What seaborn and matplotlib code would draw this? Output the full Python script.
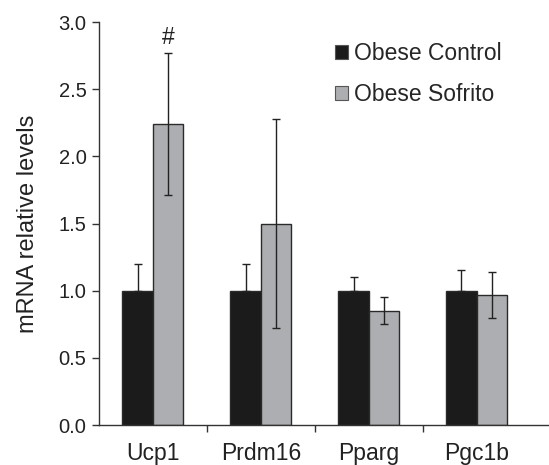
import matplotlib
matplotlib.use("Agg")
import matplotlib.pyplot as plt
import seaborn as sns
import pandas as pd
import numpy as np
from matplotlib.ticker import FixedLocator, NullFormatter

genes = ["Ucp1", "Prdm16", "Pparg", "Pgc1b"]
groups = ["Obese Control", "Obese Sofrito"]
control = [1.0, 1.0, 1.0, 1.0]
control_err = [0.20, 0.20, 0.10, 0.155]
sofrito = [2.24, 1.50, 0.85, 0.97]
sofrito_err = [0.53, 0.78, 0.10, 0.17]
yticks = [0.0, 0.5, 1.0, 1.5, 2.0, 2.5, 3.0]

sns.set_style("ticks")
plt.rcParams['font.family'] = ['Liberation Sans', 'DejaVu Sans']

df = pd.DataFrame({
    "gene": genes * 2,
    "group": [groups[0]] * 4 + [groups[1]] * 4,
    "value": control + sofrito,
})

W, H = 549, 465
fig = plt.figure(figsize=(W / 100, H / 100), dpi=100)
ax = fig.add_axes([99 / W, 1 - 425 / H, (549 - 99) / W, (425 - 22) / H])

palette = {groups[0]: "#1c1b1b", groups[1]: "#adaeb1"}
sns.barplot(data=df, x="gene", y="value", hue="group", order=genes,
            hue_order=groups, palette=palette, width=0.565, errorbar=None,
            edgecolor="#2a2a2a", linewidth=1.0, saturation=1, ax=ax, legend=True)

bars = [p for p in ax.patches if p.get_height() > 0][:8]
for i, p in enumerate(bars):
    xc = p.get_x() + p.get_width() / 2
    if i < 4:
        v, e = control[i], control_err[i]
        yerr = [[0], [e]]  # lower half hidden inside the black bar
    else:
        v, e = sofrito[i - 4], sofrito_err[i - 4]
        yerr = [[e], [e]]
    ax.errorbar([xc], [v], yerr=yerr, fmt="none", ecolor="#222222", elinewidth=1.0,
                capsize=3, capthick=1.0, zorder=5)

# '#' above Ucp1 sofrito
p = bars[4]
ax.text(p.get_x() + p.get_width() / 2, sofrito[0] + sofrito_err[0] + 0.03, "#",
        ha="center", va="bottom", fontsize=16.5, color="#222222")

ax.set_ylim(0, 3.0)
ax.set_xlim(-0.5, 3.67)
ax.set_yticks(yticks)
ax.set_yticklabels([f"{t:.1f}" for t in yticks])
ax.xaxis.set_major_locator(FixedLocator([0.5, 1.5, 2.5]))
ax.xaxis.set_major_formatter(NullFormatter())
ax.xaxis.set_minor_locator(FixedLocator([0, 1, 2, 3]))
ax.set_xticklabels(genes, minor=True)
ax.tick_params(axis="x", which="minor", length=0, labelsize=16.5, pad=12, colors="#222222")
ax.tick_params(axis="x", which="major", length=5, width=1, direction="out", color="#333333")
ax.tick_params(axis="y", length=5, width=1, labelsize=14.5, colors="#333333", labelcolor="#222222", pad=4)
ax.set_xlabel("")
ax.set_ylabel("mRNA relative levels", fontsize=17, color="#222222", labelpad=14)
for s in ["top", "right"]:
    ax.spines[s].set_visible(False)
for s in ["left", "bottom"]:
    ax.spines[s].set_color("#333333")
    ax.spines[s].set_linewidth(1.0)

leg = ax.legend(loc="upper left", frameon=False, fontsize=16.5,
                handlelength=0.57, handleheight=0.57, handletextpad=0.25,
                labelspacing=0.8, borderaxespad=0, borderpad=0)
leg.set_bbox_to_anchor((335 / W, 1 - 42 / H), transform=fig.transFigure)
for h in leg.legend_handles:
    h.set_edgecolor("#555555")
    h.set_linewidth(0.8)

fig.savefig("out.png", dpi=100)
